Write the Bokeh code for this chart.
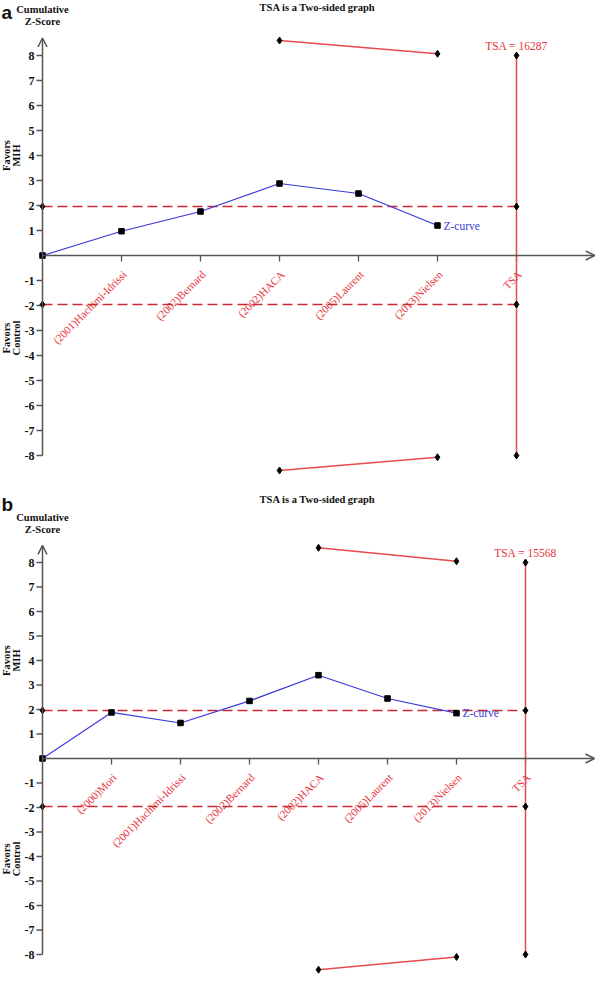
from bokeh.plotting import figure
from bokeh.layouts import column
from bokeh.models import Range1d, Arrow, OpenHead
from bokeh.core.properties import value
from bokeh.embed import file_html
from bokeh.resources import INLINE

# ---------------- data ----------------
title_text = "TSA is a Two-sided graph"

studies_a = ["(2001)Hachimi-Idrissi", "(2002)Bernard", "(2002)HACA",
             "(2005)Laurent", "(2013)Nielsen"]
z_a = [0.97, 1.76, 2.88, 2.48, 1.20]
bound_idx_a = [3, 5]
upper_a = [8.60, 8.07]
lower_a = [-8.60, -8.07]
tsa_label_a = "TSA = 16287"
favors_y_a = [4.0, -3.3]

studies_b = ["(2000)Mori", "(2001)Hachimi-Idrissi", "(2002)Bernard",
             "(2002)HACA", "(2005)Laurent", "(2013)Nielsen"]
z_b = [1.88, 1.45, 2.35, 3.40, 2.45, 1.85]
bound_idx_b = [4, 6]
upper_b = [8.60, 8.05]
lower_b = [-8.62, -8.10]
tsa_label_b = "TSA = 15568"
favors_y_b = [4.0, -4.1]

y_ticks = [-8, -7, -6, -5, -4, -3, -2, -1, 1, 2, 3, 4, 5, 6, 7, 8]
crit = 1.96
tsa_bound = 8

SERIF = value("Liberation Serif")
SANS = value("Liberation Sans")
RED_TXT = "#e8323a"
RED_LINE = "#e84a4e"
RED_DASH = "#cc2a30"
BLUE = "#3a3ad8"
AXIS = "#555555"


def make_panel(letter, studies, z, bidx, upper, lower, tsa_label, favors_y,
               W, H, ax_px, ux, y0_px, uy, x_end):
    xmin = -ax_px / ux
    xmax = (W - ax_px) / ux
    ytop = y0_px / uy
    ybot = -(H - y0_px) / uy
    p = figure(width=W, height=H, output_backend="svg", toolbar_location=None,
               x_axis_location=None, y_axis_location=None,
               x_range=Range1d(xmin, xmax), y_range=Range1d(ybot, ytop),
               min_border=0, tools="")
    p.outline_line_color = None
    p.xgrid.visible = False
    p.ygrid.visible = False

    dx = lambda px: px / ux
    dy = lambda px: px / uy

    n = len(studies)
    tsa_x = n + 1
    xs_ticks = list(range(1, n + 2))
    labels = studies + ["TSA"]

    # axes (drawn at x=0 and y=0 through the data scales)
    p.add_layout(Arrow(end=OpenHead(size=9, line_color=AXIS, line_width=1.5),
                       x_start=0, y_start=-tsa_bound, x_end=0, y_end=upper[0] + 0.1,
                       line_color=AXIS, line_width=1.5))
    p.add_layout(Arrow(end=OpenHead(size=9, line_color=AXIS, line_width=1.5),
                       x_start=0, y_start=0, x_end=x_end, y_end=0,
                       line_color=AXIS, line_width=1.5))
    # y ticks
    p.segment(x0=[-dx(6)] * len(y_ticks), y0=y_ticks, x1=[0] * len(y_ticks), y1=y_ticks,
              line_color=AXIS, line_width=1.3)
    p.text(x=[-dx(8)] * len(y_ticks), y=y_ticks, text=[str(t) for t in y_ticks],
           text_font=SERIF, text_font_size="12px", text_font_style="bold",
           text_align="right", text_baseline="middle", text_color="#111111")
    # x ticks
    p.segment(x0=xs_ticks, y0=[0] * len(xs_ticks), x1=xs_ticks, y1=[-dy(6)] * len(xs_ticks),
              line_color=AXIS, line_width=1.3)
    p.text(x=[x + dx(3) for x in xs_ticks], y=[-dy(17)] * len(xs_ticks), text=labels,
           angle=0.785, text_font=SERIF, text_font_size="11px",
           text_align="right", text_baseline="middle", text_color=RED_TXT)

    # critical value lines
    for yc in (crit, -crit):
        p.line(x=[0, tsa_x], y=[yc, yc], line_color=RED_DASH, line_width=1.5,
               line_dash="10 5")
    # TSA vertical
    p.line(x=[tsa_x, tsa_x], y=[-tsa_bound, tsa_bound], line_color=RED_LINE, line_width=1.5)
    # boundaries
    p.line(x=bidx, y=upper, line_color=RED_LINE, line_width=1.5)
    p.line(x=bidx, y=lower, line_color=RED_LINE, line_width=1.5)

    # Z-curve
    zx = list(range(0, n + 1))
    zy = [0] + z
    p.line(x=zx, y=zy, line_color=BLUE, line_width=1.2)
    p.scatter(x=zx, y=zy, marker="square", size=5.5, color="black")
    p.text(x=[zx[-1] + dx(6)], y=[zy[-1]], text=["Z-curve"], text_font=SERIF,
           text_font_size="11.5px", text_align="left", text_baseline="middle",
           text_color=BLUE)

    # diamonds
    dxs = [0, 0, tsa_x, tsa_x, tsa_x, tsa_x] + bidx + bidx
    dys = [crit, -crit, crit, -crit, tsa_bound, -tsa_bound] + upper + lower
    p.scatter(x=dxs, y=dys, marker="diamond", size=7, color="black")

    # TSA label
    p.text(x=[tsa_x], y=[tsa_bound + dy(4)], text=[tsa_label], text_font=SERIF,
           text_font_size="11.5px", text_align="center", text_baseline="bottom",
           text_color=RED_TXT)

    # texts
    p.text(x=[xmin + dx(317)], y=[ytop - dy(7)], text=[title_text], text_font=SERIF,
           text_font_size="10.5px", text_font_style="bold", text_align="center",
           text_baseline="middle", text_color="#111111")
    p.text(x=[xmin + dx(1)], y=[ytop - dy(12)], text=[letter], text_font=SANS,
           text_font_size="19px", text_font_style="bold", text_align="left",
           text_baseline="middle", text_color="#111111")
    p.text(x=[0], y=[upper[0] + dy(13)], text=["Cumulative\nZ-Score"], text_font=SERIF,
           text_font_size="10.5px", text_font_style="bold", text_align="center",
           text_baseline="bottom", text_color="#111111", text_line_height=1.1)
    p.text(x=[xmin + dx(11), xmin + dx(11)], y=favors_y, text=["Favors\nMIH", "Favors\nControl"],
           angle=1.5708, text_font=SERIF, text_font_size="10.5px", text_font_style="bold",
           text_align="center", text_baseline="middle", text_color="#111111",
           text_line_height=0.95)
    return p


pa = make_panel("a", studies_a, z_a, bound_idx_a, upper_a, lower_a, tsa_label_a, favors_y_a,
                W=600, H=492, ax_px=42, ux=79, y0_px=255, uy=25, x_end=6.99)
pb = make_panel("b", studies_b, z_b, bound_idx_b, upper_b, lower_b, tsa_label_b, favors_y_b,
                W=600, H=484, ax_px=42, ux=69, y0_px=266, uy=24.5, x_end=8.0)

layout = column(pa, pb, spacing=0)
open("out.html", "w").write(file_html(layout, INLINE))
